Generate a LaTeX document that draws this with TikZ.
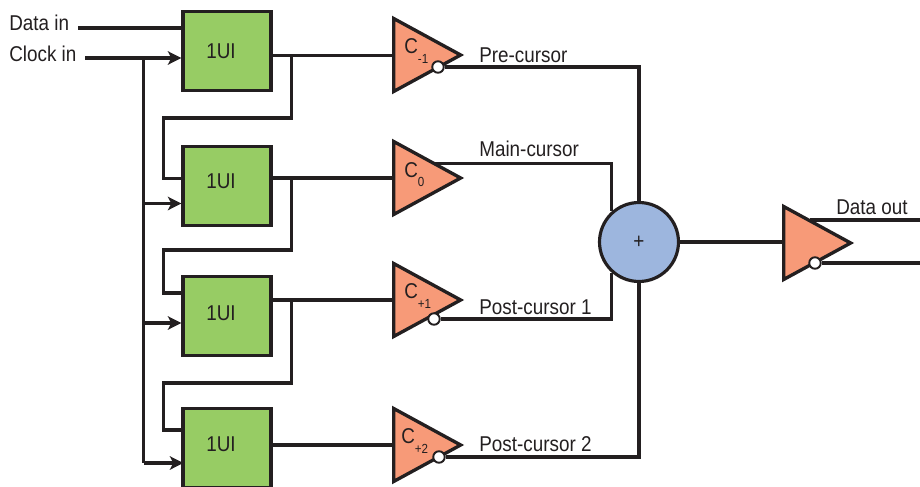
\documentclass[tikz,border=0pt]{standalone}
\usepackage{fontspec}
\setmainfont[FakeStretch=0.88]{Liberation Sans}
\usetikzlibrary{shapes.geometric,arrows.meta}
\definecolor{wirecol}{HTML}{231F20}
\definecolor{boxgreen}{HTML}{97CC64}
\definecolor{gainorange}{HTML}{F79A78}
\definecolor{sumblue}{HTML}{9DB6DE}
\begin{document}
\begin{tikzpicture}[
    x=0.02cm, y=-0.02cm,
    font=\fontsize{12.2}{14}\selectfont, text=wirecol,
    blockbox/.style={draw=wirecol, line width=1.9pt, fill=boxgreen, minimum width=1.76cm, minimum height=1.59cm, inner sep=0pt},
    gainamp/.style={isosceles triangle, isosceles triangle stretches, draw=wirecol, line width=1.9pt, fill=gainorange, minimum width=1.46cm, minimum height=1.34cm, inner sep=0pt, anchor=lower side},
    bubble/.style={circle, draw=wirecol, line width=1.1pt, fill=white, minimum size=0.23cm, inner sep=0pt},
    sumnode/.style={circle, draw=wirecol, line width=1.8pt, fill=sumblue, minimum size=1.58cm, inner sep=0pt},
    wire/.style={draw=wirecol, line width=1.75pt},
    clockarrow/.style={wire, -{Stealth[length=0.27cm, width=0.27cm, inset=0.07cm]}},
    tag/.style={anchor=west, inner sep=0pt}
]
    \useasboundingbox (0,0) rectangle (920,487);

    % Delay blocks
    \node[blockbox] (box1) at (227,51) {};
    \node[blockbox] (box2) at (227,186) {};
    \node[blockbox] (box3) at (227,316) {};
    \node[blockbox] (box4) at (227,448) {};
    \node (ui1) at (221,51) {1UI};
    \node (ui2) at (221,181) {1UI};
    \node (ui3) at (221,313) {1UI};
    \node (ui4) at (221,444) {1UI};

    % Gain stages
    \node[gainamp] (amp1) at (392,55) {};
    \node[gainamp] (amp2) at (392,178) {};
    \node[gainamp] (amp3) at (392,300) {};
    \node[gainamp] (amp4) at (392,445) {};
    \node[gainamp] (ampout) at (782,243) {};
    \node[bubble] (bub1) at (438,67) {};
    \node[bubble] (bub3) at (434,319) {};
    \node[bubble] (bub4) at (439,457) {};
    \node[bubble] (bubout) at (815,263) {};
    \node[tag] (coef1) at (404,51) {C\raisebox{-0.8ex}{\fontsize{7.5}{8}\selectfont -1}};
    \node[tag] (coef2) at (404,175) {C\raisebox{-0.8ex}{\fontsize{7.5}{8}\selectfont 0}};
    \node[tag] (coef3) at (404,296) {C\raisebox{-0.8ex}{\fontsize{7.5}{8}\selectfont +1}};
    \node[tag] (coef4) at (401,441) {C\raisebox{-0.8ex}{\fontsize{7.5}{8}\selectfont +2}};

    % Summing node
    \node[sumnode] (sum) at (639,242) {+};

    % Labels
    \node[tag] (datain) at (9,23) {Data in};
    \node[tag] (clockin) at (9,54) {Clock in};
    \node[tag] (pre) at (479,55) {Pre-cursor};
    \node[tag] (main) at (479,149) {Main-cursor};
    \node[tag] (post1) at (479,307) {Post-cursor 1};
    \node[tag] (post2) at (479,444) {Post-cursor 2};
    \node[tag] (dataout) at (836,207) {Data out};

    % Free ends
    \coordinate (dfrom) at (78,28);
    \coordinate (cfrom) at (85,58);
    \coordinate (cbus2) at (143.5,203.5);
    \coordinate (cbus3) at (143.5,323);
    \coordinate (cbus4) at (143.5,463);
    \coordinate (tap1) at (291.5,55.5);
    \coordinate (tap2) at (291.5,178);
    \coordinate (tap3) at (291.5,300);
    \coordinate (turn1) at (163.5,118);
    \coordinate (turn2) at (163.5,250);
    \coordinate (turn3) at (163.5,383);
    \coordinate (in2) at (163.5,178.5);
    \coordinate (in3) at (163.5,293);
    \coordinate (in4) at (163.5,430);
    \coordinate (main0) at (433,163.5);
    \coordinate (outp) at (810,220);
    \coordinate (endp) at (920,220);
    \coordinate (endn) at (920,263);

    % Data and clock inputs
    \draw[wire] (dfrom) -- (dfrom -| box1.west);
    \draw[clockarrow] (cfrom) -- (cfrom -| box1.west);
    \draw[wire] (cfrom -| cbus2) -- (cbus4);
    \draw[clockarrow] (cbus2) -- (cbus2 -| box2.west);
    \draw[clockarrow] (cbus3) -- (cbus3 -| box3.west);
    \draw[clockarrow] (cbus4) -- ([xshift=0.04cm]cbus4 -| box4.west);

    % Block outputs
    \draw[wire] (tap1 -| box1.east) -- (tap1 -| amp1.lower side);
    \draw[wire] (tap2 -| box2.east) -- (tap2 -| amp2.lower side);
    \draw[wire] (tap3 -| box3.east) -- (tap3 -| amp3.lower side);
    \draw[wire] (box4.east |- amp4.lower side) -- (amp4.lower side);

    % Shift chain
    \draw[wire] (tap1) |- (turn1) -- (in2) -- (in2 -| box2.west);
    \draw[wire] (tap2) |- (turn2) -- (in3) -- (in3 -| box3.west);
    \draw[wire] (tap3) |- (turn3) -- (in4) -- (in4 -| box4.west);

    % Into the summing node
    \draw[wire] (bub1.east) -| (sum.north);
    \draw[wire] (main0) -| (sum.132);
    \draw[wire] (bub3.east) -| (sum.228);
    \draw[wire] (bub4.east) -| (sum.south);

    % Output
    \draw[wire] (sum.east) -- (sum.east -| ampout.lower side);
    \draw[wire] (outp) -- (endp);
    \draw[wire] (bubout.east) -- (endn);
\end{tikzpicture}
\end{document}
